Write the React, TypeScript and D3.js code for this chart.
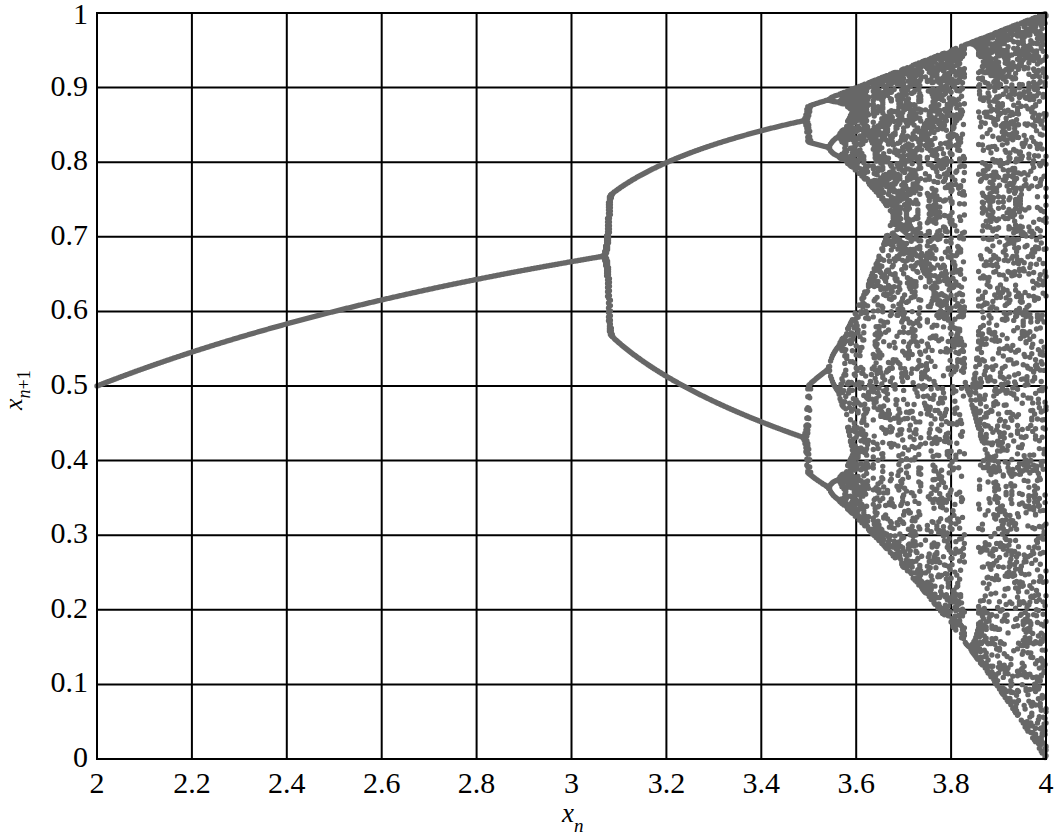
import React, { useMemo } from "react";
import * as d3 from "d3";

// Bifurcation diagram of the logistic map x_{n+1} = r x_n (1 - x_n)
const xTicks = [2, 2.2, 2.4, 2.6, 2.8, 3, 3.2, 3.4, 3.6, 3.8, 4];
const yTicks = [0, 0.1, 0.2, 0.3, 0.4, 0.5, 0.6, 0.7, 0.8, 0.9, 1];
const xTickLabels = ["2", "2.2", "2.4", "2.6", "2.8", "3", "3.2", "3.4", "3.6", "3.8", "4"];
const yTickLabels = ["0", "0.1", "0.2", "0.3", "0.4", "0.5", "0.6", "0.7", "0.8", "0.9", "1"];
const rDomain = [2, 4];
const rStep = 0.002;
// seeding stages: from stageStartR[i] the orbit is seeded on the fixed point (stage 0)
// or on the period-2 orbit (stage 1), perturbed by seedOffsets[i]
const stageStartR = [2, 3.2];
const transientIters = [400, 200];
const seedOffsets = [1.3e-15, 2.3e-12];
const keptIters = 30;

const W = 1055, H = 839;
const M = { left: 97, right: 1046, top: 13, bottom: 759 };
const FONT = "Liberation Serif";
const DOT_R = 2.7;

function computePoints() {
  const pts: [number, number][] = [];
  const n = Math.round((rDomain[1] - rDomain[0]) / rStep);
  for (let i = 0; i <= n; i++) {
    const r = rDomain[0] + i * rStep;
    const stage = r < stageStartR[1] ? 0 : 1;
    let x: number;
    if (stage === 0) {
      x = 1 - 1 / r + seedOffsets[0];
    } else {
      x = ((r + 1) - Math.sqrt((r + 1) * (r - 3))) / (2 * r) + seedOffsets[1];
    }
    for (let k = 0; k < transientIters[stage]; k++) x = r * x * (1 - x);
    for (let k = 0; k < keptIters; k++) {
      x = r * x * (1 - x);
      pts.push([r, x]);
    }
  }
  return pts;
}

export default function App() {
  const xs = d3.scaleLinear().domain([2, 4]).range([M.left, M.right]);
  const ys = d3.scaleLinear().domain([0, 1]).range([M.bottom, M.top]);

  const dotPath = useMemo(() => {
    const seen = new Set<string>();
    const p = d3.path();
    for (const [r, v] of computePoints()) {
      const cx = xs(r), cy = ys(v);
      const key = Math.round(cx * 2) + "," + Math.round(cy * 2);
      if (seen.has(key)) continue;
      seen.add(key);
      p.moveTo(cx + DOT_R, cy);
      p.arc(cx, cy, DOT_R, 0, 2 * Math.PI);
    }
    return p.toString();
  }, []);

  const txt = { fontFamily: FONT };

  return (
    <svg width={W} height={H} fontFamily={FONT} style={{ position: "absolute", left: 0, top: 0, fontFamily: FONT }}>
      <rect x={0} y={0} width={W} height={H} fill="#fff" />
      {xTicks.map((t) => (
        <line key={"gx" + t} x1={xs(t)} x2={xs(t)} y1={M.top} y2={M.bottom} stroke="#000" strokeWidth={2} />
      ))}
      {yTicks.map((t) => (
        <line key={"gy" + t} x1={M.left} x2={M.right} y1={ys(t)} y2={ys(t)} stroke="#000" strokeWidth={2} />
      ))}
      <path d={dotPath} fill="#676767" />
      <rect x={M.left} y={M.top} width={M.right - M.left} height={M.bottom - M.top} fill="none" stroke="#000" strokeWidth={2} />
      {xTicks.map((t, i) => (
        <text key={"tx" + t} x={xs(t)} y={793} textAnchor="middle" fontSize={30} fill="#000" style={txt}>
          {xTickLabels[i]}
        </text>
      ))}
      {yTicks.map((t, i) => (
        <text key={"ty" + t} x={88} y={Math.max(ys(t) + 8, 24)} textAnchor="end" fontSize={30} fill="#000" style={txt}>
          {yTickLabels[i]}
        </text>
      ))}
      <text x={562} y={822} textAnchor="start" fontSize={27} fill="#000" style={txt}>
        <tspan fontStyle="italic">x</tspan>
        <tspan fontStyle="italic" fontSize={19} dy={10}>n</tspan>
      </text>
      <text transform="translate(22,410) rotate(-90)" textAnchor="start" fontSize={26} fill="#000" style={txt}>
        <tspan fontStyle="italic">x</tspan>
        <tspan fontStyle="italic" fontSize={18} dy={8}>n</tspan>
        <tspan fontSize={18}>+1</tspan>
      </text>
    </svg>
  );
}
